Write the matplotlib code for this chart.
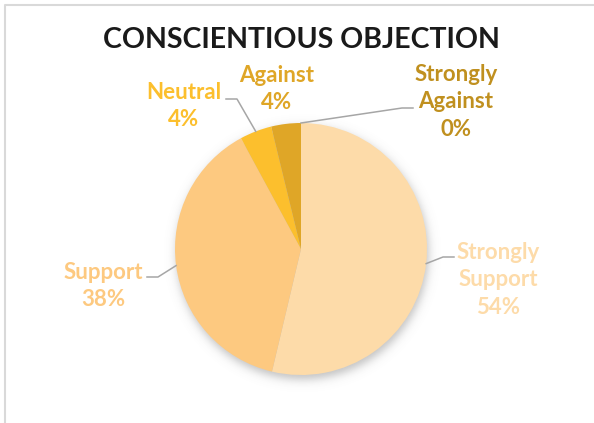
import numpy as np
import matplotlib.pyplot as plt
from matplotlib.lines import Line2D

plt.rcParams['font.family'] = ['Lato', 'DejaVu Sans']

# survey answers, clockwise from 12 o'clock
categories = ['Strongly\nSupport', 'Support', 'Neutral', 'Against', 'Strongly\nAgainst']
shares = [53.7, 38.4, 4.1, 3.8, 0.0]
colors = ['#FDDBA9', '#FDC980', '#FCBF2D', '#DFA627', '#C0901F']

W, H = 594, 423
cx, cy, R = 301, 249, 126   # pie centre and radius in pixels


def to_data(px, py):
    return (px - cx) / R, (cy - py) / R


fig = plt.figure(figsize=(W / 100, H / 100), dpi=100)
ax = fig.add_axes([0, 0, 1, 1])

# soft drop shadow under the pie
yy, xx = np.mgrid[0:H, 0:W]
d = np.hypot(xx - (cx + 1), yy - (cy + 4))
shadow = np.zeros((H, W, 4))
shadow[..., :3] = 0.4
shadow[..., 3] = 0.4 / (1 + np.exp((d - R) / 2.8))
x0, y1 = to_data(0, 0)
x1, y0 = to_data(W, H)
ax.imshow(shadow, extent=(x0, x1, y0, y1), zorder=0, interpolation='bilinear')

wedges, _ = ax.pie(shares, colors=colors, startangle=90, counterclock=False,
                   radius=1, wedgeprops=dict(linewidth=0))
for w in wedges:
    w.set_zorder(2)

ax.set_xlim(x0, x1)
ax.set_ylim(y0, y1)
ax.set_aspect('auto')
ax.axis('off')

# label centre (px) and leader end / elbow (px), None = no leader
layout = [
    ((498, 280), (454, 257), (443, 257)),
    ((103, 286), (147, 277), (158, 277)),
    ((184, 106), (226, 99), (237, 99)),
    ((277, 89), None, None),
    ((456, 102), (413, 108), (402, 108)),
]

for w, cat, val, col, (lab, end, elbow) in zip(wedges, categories, shares, colors, layout):
    lx, ly = to_data(*lab)
    ax.text(lx, ly, f'{cat}\n{val:.0f}%', ha='center', va='center', color=col,
            fontsize=16, fontweight='bold', linespacing=1.36, zorder=5)
    if end is None:
        continue
    mid = np.deg2rad((w.theta1 + w.theta2) / 2)
    sx, sy = np.cos(mid), np.sin(mid)
    ex, ey = to_data(*elbow)
    tx, ty = to_data(*end)
    ax.add_line(Line2D([sx, ex, tx], [sy, ey, ty], color='#A6A6A6', lw=1.1, zorder=4))

fig.text(301 / W, 1 - 40 / H, 'CONSCIENTIOUS OBJECTION', ha='center', va='center',
         fontsize=20.5, fontweight='bold', color='#1A1A1A')

# chart area border (top and left edges)
fig.add_artist(Line2D([4.5 / W, 4.5 / W, 1], [0, 1 - 5.5 / H, 1 - 5.5 / H],
                      transform=fig.transFigure, color='#D9D9D9', lw=1.5))

fig.savefig('out.png', dpi=100)
